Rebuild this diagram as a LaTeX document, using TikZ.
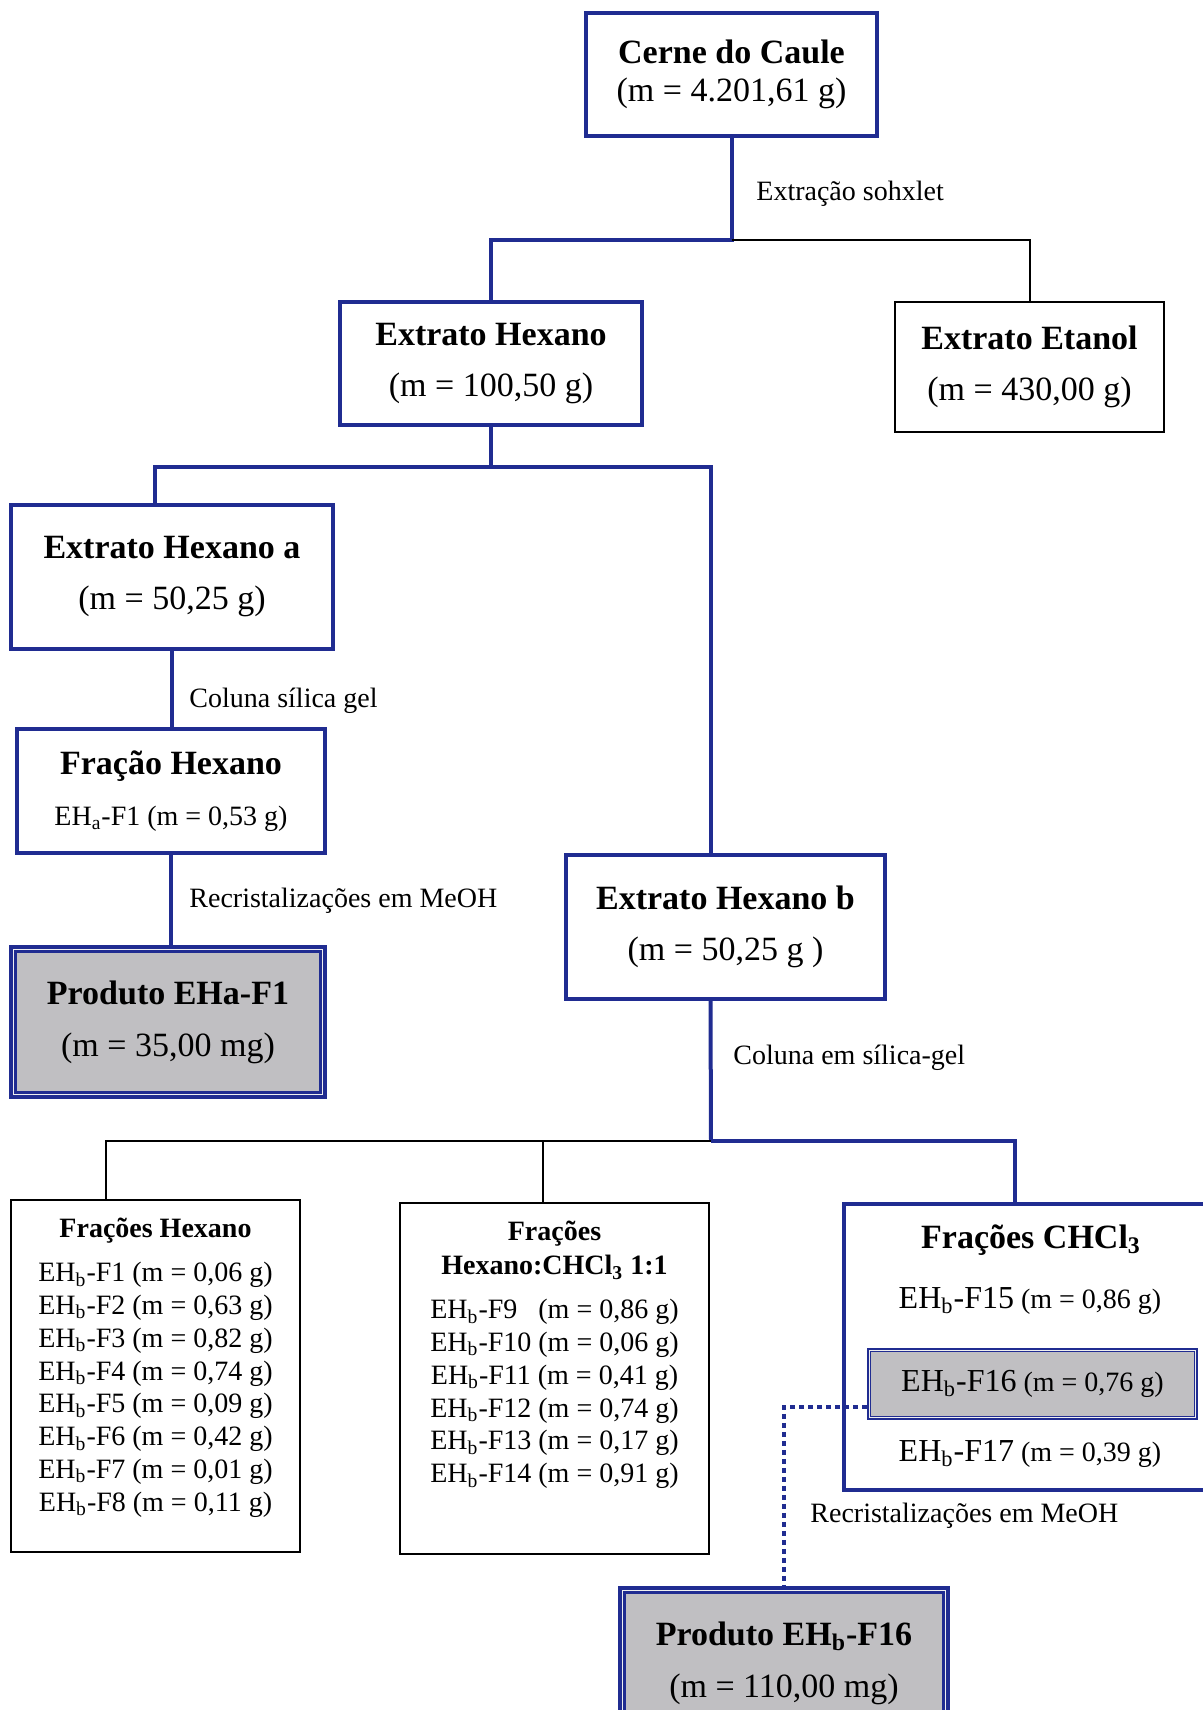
\documentclass[tikz,border=0pt]{standalone}
\usepackage{fontspec}
\setmainfont{Liberation Serif}
\usepackage{tikz}
\usetikzlibrary{positioning, calc}
\definecolor{boxblue}{RGB}{32, 44, 145}
\definecolor{productgray}{RGB}{192, 191, 194}

\begin{document}
\begin{tikzpicture}[
    x=0.5pt, y=-0.5pt,
    bluebox/.style={draw=boxblue, line width=2pt, fill=white, inner sep=0pt, align=center, font=\fontsize{17pt}{25.5pt}\selectfont},
    blackbox/.style={draw=black, line width=1pt, fill=white, inner sep=0pt, align=center, font=\fontsize{17pt}{25.5pt}\selectfont},
    product/.style={draw=boxblue, line width=3.6pt, fill=productgray, inner sep=0pt, align=center, font=\fontsize{17pt}{26pt}\selectfont},
    gapframe/.style={draw=white!75!productgray, line width=0.6pt},
    innerframe/.style={draw=boxblue, line width=1pt},
    listbox/.style={draw=black, line width=1pt, inner sep=0pt},
    listtext/.style={inner sep=0pt, align=center, font=\fontsize{14pt}{16.4pt}\selectfont},
    steplabel/.style={anchor=west, inner sep=0pt, font=\fontsize{14pt}{16pt}\selectfont},
    link/.style={draw=boxblue, line width=2pt},
    thinlink/.style={draw=black, line width=1pt},
    dotlink/.style={draw=boxblue, line width=2pt, dash pattern=on 2.5pt off 2pt}
]
    \useasboundingbox (0,0) rectangle (1203,1710);

    % Raw material
    \node[bluebox, minimum width=145.5pt, minimum height=61.5pt, font=\fontsize{17pt}{19pt}\selectfont] (cerne) at (731.5,74.5) {\textbf{Cerne do Caule}\\(m = 4.201,61 g)};

    % Extracts
    \node[bluebox, minimum width=151pt, minimum height=61.5pt] (hexano) at (491,363.5) {\textbf{Extrato Hexano}\\(m = 100,50 g)};
    \node[blackbox, minimum width=134.5pt, minimum height=65pt] (etanol) at (1029.5,367) {\textbf{Extrato Etanol}\\(m = 430,00 g)};

    % Hexane extract halves
    \node[bluebox, minimum width=161pt, minimum height=72pt] (hexa) at (172,577) {\textbf{Extrato Hexano a}\\(m = 50,25 g)};
    \node[bluebox, minimum width=159.5pt, minimum height=72pt] (hexb) at (725.5,927) {\textbf{Extrato Hexano b}\\(m = 50,25 g )};

    % Branch a
    \node[bluebox, minimum width=154pt, minimum height=62pt] (fracao) at (171,791) {\textbf{Fração Hexano}\\{\fontsize{14pt}{16pt}\selectfont EH\textsubscript{a}-F1 (m = 0,53 g)}};
    \node[product, minimum width=155pt, minimum height=73pt] (proda) at (168,1022) {\textbf{Produto EHa-F1}\\(m = 35,00 mg)};
    \draw[gapframe] ([xshift=2.1pt,yshift=-2.1pt]proda.north west) rectangle ([xshift=-2.1pt,yshift=2.1pt]proda.south east);
    \draw[innerframe] ([xshift=2.9pt,yshift=-2.9pt]proda.north west) rectangle ([xshift=-2.9pt,yshift=2.9pt]proda.south east);

    % Branch b fractions
    \node[listbox, minimum width=144.5pt, minimum height=176pt] (frhex) at (155.5,1376) {};
    \node[listtext, below=9.4pt of frhex.north] (frhexlist) {\textbf{Frações Hexano}\\[5.6pt]
        EH\textsubscript{b}-F1 (m = 0,06 g)\\
        EH\textsubscript{b}-F2 (m = 0,63 g)\\
        EH\textsubscript{b}-F3 (m = 0,82 g)\\
        EH\textsubscript{b}-F4 (m = 0,74 g)\\
        EH\textsubscript{b}-F5 (m = 0,09 g)\\
        EH\textsubscript{b}-F6 (m = 0,42 g)\\
        EH\textsubscript{b}-F7 (m = 0,01 g)\\
        EH\textsubscript{b}-F8 (m = 0,11 g)};

    \node[listbox, minimum width=154.5pt, minimum height=175.5pt] (frmix) at (554.5,1378.5) {};
    \node[listtext, below=9.4pt of frmix.north] (frmixlist) {\textbf{Frações}\\[0.6pt]
        \textbf{Hexano:CHCl\textsubscript{3} 1:1}\\[5.6pt]
        EH\textsubscript{b}-F9\phantom{0} (m = 0,86 g)\\
        EH\textsubscript{b}-F10 (m = 0,06 g)\\
        EH\textsubscript{b}-F11 (m = 0,41 g)\\
        EH\textsubscript{b}-F12 (m = 0,74 g)\\
        EH\textsubscript{b}-F13 (m = 0,17 g)\\
        EH\textsubscript{b}-F14 (m = 0,91 g)};

    \node[bluebox, minimum width=186pt, minimum height=143pt] (chcl3) at (1030,1347) {};
    \node[inner sep=0pt, font=\fontsize{17pt}{20pt}\selectfont\bfseries] (chcl3title) at (1031,1240) {Frações CHCl\textsubscript{3}};
    \node[listtext] (f15) at (1030,1301) {{\fontsize{16pt}{18pt}\selectfont EH\textsubscript{b}-F15} (m = 0,86 g)};
    \node[product, line width=1.8pt, minimum width=163.5pt, minimum height=34pt, font=\fontsize{14pt}{16pt}\selectfont] (f16) at (1032.5,1384) {{\fontsize{16pt}{18pt}\selectfont EH\textsubscript{b}-F16} (m = 0,76 g)};
    \draw[gapframe, line width=0.4pt] ([xshift=1.1pt,yshift=-1.1pt]f16.north west) rectangle ([xshift=-1.1pt,yshift=1.1pt]f16.south east);
    \draw[innerframe, line width=0.7pt] ([xshift=1.65pt,yshift=-1.65pt]f16.north west) rectangle ([xshift=-1.65pt,yshift=1.65pt]f16.south east);
    \node[listtext] (f17) at (1030,1454) {{\fontsize{16pt}{18pt}\selectfont EH\textsubscript{b}-F17} (m = 0,39 g)};

    % Final product
    \node[product, minimum width=162pt, minimum height=73pt] (prodb) at (784,1663) {\textbf{Produto EH\textsubscript{b}-F16}\\(m = 110,00 mg)};
    \draw[gapframe] ([xshift=2.1pt,yshift=-2.1pt]prodb.north west) rectangle ([xshift=-2.1pt,yshift=2.1pt]prodb.south east);
    \draw[innerframe] ([xshift=2.9pt,yshift=-2.9pt]prodb.north west) rectangle ([xshift=-2.9pt,yshift=2.9pt]prodb.south east);

    % Connectors
    \coordinate (split1) at (731.5,240);
    \draw[link] (cerne) -- (split1) -| (hexano);
    \draw[thinlink] (split1) -| (etanol);

    \coordinate (split2) at (491,467);
    \draw[link] (hexano) -- (split2);
    \draw[link] (split2) -| ([xshift=-8.5pt]hexa.north);
    \draw[link] (split2) -| ([xshift=-7.5pt]hexb.north);
    \draw[link] (hexa.south) -- (hexa.south |- fracao.north);
    \draw[link] (fracao.south) -- (fracao.south |- proda.north);

    \coordinate (split3) at (711,1141);
    \draw[link] ([xshift=-7.5pt]hexb.south) -- (split3);
    \draw[thinlink] (split3) -| ([xshift=-24.75pt]frhex.north);
    \draw[thinlink] (split3) -| ([xshift=-5.75pt]frmix.north);
    \draw[link] (split3) -| ([xshift=-7.5pt]chcl3.north);

    \draw[dotlink] ([yshift=-11.5pt]f16.west) -| (prodb.north);

    % Labels
    \node[steplabel] (soxhlet) at (756,194) {Extração sohxlet};
    \node[steplabel] (coluna1) at (189,701) {Coluna sílica gel};
    \node[steplabel] (recrist1) at (189,901) {Recristalizações em MeOH};
    \node[steplabel] (coluna2) at (733,1058) {Coluna em sílica-gel};
    \node[steplabel] (recrist2) at (810,1516) {Recristalizações em MeOH};
\end{tikzpicture}
\end{document}
